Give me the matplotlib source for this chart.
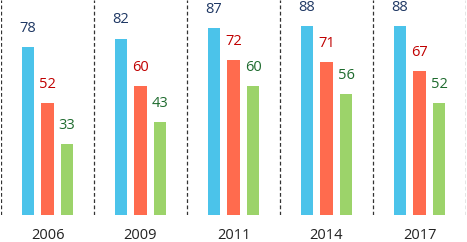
import matplotlib
matplotlib.use("Agg")
import matplotlib.pyplot as plt
import numpy as np

years = ["2006", "2009", "2011", "2014", "2017"]
series_a = [78, 82, 87, 88, 88]
series_b = [52, 60, 72, 71, 67]
series_c = [33, 43, 60, 56, 52]

bar_colors = ["#4BC3EA", "#FF6B4E", "#9CD36A"]
label_colors = ["#1F3864", "#C00000", "#1E6B2E"]

plt.rcParams['font.family'] = ['Open Sans', 'DejaVu Sans']

W, H = 467, 242
fig = plt.figure(figsize=(W/100, H/100), dpi=100)
ax = fig.add_axes([1/W, (H-214.5)/H, 465/W, 214.5/H])

x = np.arange(len(years)) + 0.5
offsets = [-0.21, 0.0, 0.21]
width = 0.135
for s, off, bc, lc in zip([series_a, series_b, series_c], offsets, bar_colors, label_colors):
    bars = ax.bar(x + off, s, width=width, color=bc)
    for xi, v in zip(x + off, s):
        ax.annotate(str(v), (xi, v), xytext=(0, 8), textcoords="offset points",
                    ha="center", va="bottom", fontsize=10.5, color=lc)

for b in range(len(years) + 1):
    ax.axvline(b, color="#333333", lw=0.9, ls=(0, (3, 2)))

ax.set_xlim(0, len(years))
ax.set_ylim(0, 100)
ax.set_xticks(x)
ax.set_xticklabels(years, fontsize=10.5, color="#222222")
ax.tick_params(axis="x", length=0, pad=10)
ax.set_yticks([])
for sp in ax.spines.values():
    sp.set_visible(False)

fig.savefig("out.png", dpi=100)
